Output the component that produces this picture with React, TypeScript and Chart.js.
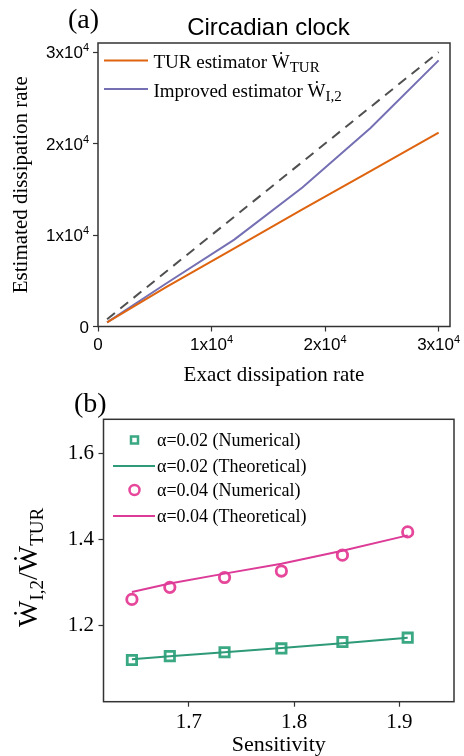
import React, { useEffect, useRef } from 'react';
import { Chart, registerables } from 'chart.js';

Chart.register(...registerables);

// ---------- Panel (a) data ----------
const exactRates = [800, 6000, 12000, 18000, 24000, 30000];
const turEstimates = [450, 4300, 8550, 12800, 17000, 21200];
const improvedEstimates = [450, 4700, 9500, 15200, 21700, 29100];
const identityX = [800, 30000];
const identityY = [800, 30000];
const rateTicks = [0, 10000, 20000, 30000];
const rateTickBase = ['0', '1x10', '2x10', '3x10'];
const rateTickExp = ['', '4', '4', '4'];
const legendA = ['TUR estimator ', 'Improved estimator '];
const legendASubs = ['TUR', 'I,2'];

// ---------- Panel (b) data ----------
const sensitivity = [1.646, 1.682, 1.734, 1.788, 1.846, 1.908];
const ratioNum002 = [1.119, 1.128, 1.137, 1.146, 1.161, 1.171];
const ratioTheo002 = [1.121, 1.128, 1.137, 1.147, 1.158, 1.171];
const ratioNum004 = [1.26, 1.288, 1.311, 1.326, 1.363, 1.417];
const ratioTheo004 = [1.277, 1.297, 1.32, 1.343, 1.373, 1.409];
const sensTicks = [1.7, 1.8, 1.9];
const ratioTicks = [1.2, 1.4, 1.6];
const legendB = [
  'α=0.02 (Numerical)',
  'α=0.02 (Theoretical)',
  'α=0.04 (Numerical)',
  'α=0.04 (Theoretical)',
];

const ORANGE = '#DE6410';
const PURPLE = '#7570B3';
const GREEN = '#3AA882';
const GREEN_LINE = '#2E9A78';
const PINK = '#E6479B';
const PINK_LINE = '#DC3C97';
const FRAME = '#333333';

const SERIF = "'Liberation Serif', 'Times New Roman', 'DejaVu Serif', serif";
const SANS = "'Liberation Sans', Arial, 'DejaVu Sans', sans-serif";

type Part = { t: string; size: number; dy?: number };

function partsWidth(ctx: CanvasRenderingContext2D, parts: Part[], family: string) {
  let w = 0;
  ctx.save();
  for (const p of parts) {
    ctx.font = `${p.size}px ${family}`;
    w += ctx.measureText(p.t).width;
  }
  ctx.restore();
  return w;
}

function drawParts(ctx: CanvasRenderingContext2D, x: number, y: number, parts: Part[], family: string, color: string) {
  ctx.save();
  ctx.fillStyle = color;
  ctx.textBaseline = 'alphabetic';
  ctx.textAlign = 'left';
  let cx = x;
  for (const p of parts) {
    ctx.font = `${p.size}px ${family}`;
    ctx.fillText(p.t, cx, y + (p.dy || 0));
    cx += ctx.measureText(p.t).width;
  }
  ctx.restore();
}

const framePlugin = {
  id: 'frame',
  afterDatasetsDraw(chart: any) {
    const { ctx, chartArea: a } = chart;
    ctx.save();
    ctx.strokeStyle = FRAME;
    ctx.lineWidth = 1.5;
    ctx.strokeRect(a.left, a.top, a.right - a.left, a.bottom - a.top);
    ctx.restore();
  },
};

function tickParts(i: number): Part[] {
  const parts: Part[] = [{ t: rateTickBase[i], size: 17 }];
  if (rateTickExp[i]) parts.push({ t: rateTickExp[i], size: 11, dy: -7 });
  return parts;
}

const decorA = {
  id: 'decorA',
  afterDraw(chart: any) {
    const ctx: CanvasRenderingContext2D = chart.ctx;
    const xs = chart.scales.x;
    const ys = chart.scales.y;
    // tick labels with superscripts
    for (let i = 0; i < rateTicks.length; i++) {
      const parts = tickParts(i);
      const w = partsWidth(ctx, parts, SANS);
      const px = xs.getPixelForValue(rateTicks[i]);
      drawParts(ctx, px - w / 2, chart.chartArea.bottom + 23.5, parts, SANS, '#000');
      const py = ys.getPixelForValue(rateTicks[i]);
      drawParts(ctx, 89 - w, py + 6, parts, SANS, '#000');
    }
    // panel label
    drawParts(ctx, 68, 28, [{ t: '(a)', size: 28 }], SERIF, '#000');
    // title
    ctx.save();
    ctx.font = `24px ${SANS}`;
    ctx.fillStyle = '#000';
    ctx.textAlign = 'center';
    ctx.textBaseline = 'alphabetic';
    ctx.fillText('Circadian clock', 268.5, 35);
    ctx.restore();
    // legend
    const colors = [ORANGE, PURPLE];
    const rows = [60.5, 89];
    for (let i = 0; i < legendA.length; i++) {
      ctx.save();
      ctx.strokeStyle = colors[i];
      ctx.lineWidth = 2;
      ctx.beginPath();
      ctx.moveTo(104, rows[i]);
      ctx.lineTo(148, rows[i]);
      ctx.stroke();
      ctx.restore();
      drawParts(
        ctx,
        153.5,
        rows[i] + 7.5,
        [
          { t: legendA[i], size: 19 },
          { t: 'Ẇ', size: 19 },
          { t: legendASubs[i], size: 15, dy: 4 },
        ],
        SERIF,
        '#000'
      );
    }
  },
};

const decorB = {
  id: 'decorB',
  afterDraw(chart: any) {
    const ctx: CanvasRenderingContext2D = chart.ctx;
    drawParts(ctx, 74, 22, [{ t: '(b)', size: 28 }], SERIF, '#000');
    // y-axis title with subscripts
    ctx.save();
    ctx.translate(37, 237);
    ctx.rotate(-Math.PI / 2);
    drawParts(
      ctx,
      0,
      0,
      [
        { t: 'Ẇ', size: 28 },
        { t: 'I,2', size: 19, dy: 6 },
        { t: '/', size: 28 },
        { t: 'Ẇ', size: 28 },
        { t: 'TUR', size: 19, dy: 6 },
      ],
      SERIF,
      '#000'
    );
    ctx.restore();
    // legend
    const rows = [50, 76, 100, 126];
    const mx = 134.5;
    for (let i = 0; i < legendB.length; i++) {
      const y = rows[i];
      ctx.save();
      if (i === 0) {
        ctx.strokeStyle = GREEN;
        ctx.lineWidth = 2.5;
        ctx.strokeRect(mx - 3.5, y - 3.5, 7, 7);
      } else if (i === 2) {
        ctx.strokeStyle = PINK;
        ctx.lineWidth = 2.5;
        ctx.beginPath();
        ctx.arc(mx, y, 5, 0, Math.PI * 2);
        ctx.stroke();
      } else {
        ctx.strokeStyle = i === 1 ? GREEN_LINE : PINK_LINE;
        ctx.lineWidth = 2;
        ctx.beginPath();
        ctx.moveTo(113, y);
        ctx.lineTo(155, y);
        ctx.stroke();
      }
      ctx.restore();
      drawParts(ctx, 157, y + 6, [{ t: legendB[i], size: 18 }], SERIF, '#000');
    }
  },
};

function zip(xs: number[], ys: number[]) {
  return xs.map((x, i) => ({ x, y: ys[i] }));
}

export default function App() {
  const refA = useRef<HTMLCanvasElement | null>(null);
  const refB = useRef<HTMLCanvasElement | null>(null);

  useEffect(() => {
    const chartA = new Chart(refA.current as HTMLCanvasElement, {
      type: 'scatter',
      data: {
        datasets: [
          {
            data: zip(identityX, identityY),
            showLine: true,
            borderColor: '#505050',
            borderWidth: 2,
            borderDash: [10, 7],
            pointRadius: 0,
          },
          {
            data: zip(exactRates, turEstimates),
            showLine: true,
            borderColor: ORANGE,
            borderWidth: 2,
            pointRadius: 0,
          },
          {
            data: zip(exactRates, improvedEstimates),
            showLine: true,
            borderColor: PURPLE,
            borderWidth: 2,
            pointRadius: 0,
          },
        ],
      },
      options: {
        responsive: false,
        animation: false,
        events: [],
        layout: { padding: { top: 43, right: 14, left: 0, bottom: 0 } },
        plugins: { legend: { display: false }, tooltip: { enabled: false }, title: { display: false } },
        scales: {
          x: {
            type: 'linear',
            min: 0,
            max: 31000,
            afterBuildTicks: (s: any) => {
              s.ticks = rateTicks.map((v) => ({ value: v }));
            },
            afterFit: (s: any) => {
              s.height = 63.5;
            },
            ticks: { display: false },
            grid: { drawOnChartArea: false, drawTicks: true, tickLength: 5, tickColor: FRAME, tickWidth: 1.2 },
            border: { display: false },
            title: {
              display: true,
              text: 'Exact dissipation rate',
              font: { family: SERIF, size: 21, lineHeight: 1 },
              color: '#000',
              padding: { top: 0, bottom: 4.5 },
            },
          },
          y: {
            type: 'linear',
            min: 0,
            max: 31000,
            afterBuildTicks: (s: any) => {
              s.ticks = rateTicks.map((v) => ({ value: v }));
            },
            afterFit: (s: any) => {
              s.width = 98;
            },
            ticks: { display: false },
            grid: { drawOnChartArea: false, drawTicks: true, tickLength: 5, tickColor: FRAME, tickWidth: 1.2 },
            border: { display: false },
            title: {
              display: true,
              text: 'Estimated dissipation rate',
              font: { family: SERIF, size: 21, lineHeight: 1 },
              color: '#000',
              padding: { top: 11, bottom: 0 },
            },
          },
        },
      },
      plugins: [framePlugin, decorA],
    } as any);

    const chartB = new Chart(refB.current as HTMLCanvasElement, {
      type: 'scatter',
      data: {
        datasets: [
          {
            data: zip(sensitivity, ratioTheo002),
            showLine: true,
            borderColor: GREEN_LINE,
            borderWidth: 2,
            pointRadius: 0,
          },
          {
            data: zip(sensitivity, ratioTheo004),
            showLine: true,
            borderColor: PINK_LINE,
            borderWidth: 2,
            pointRadius: 0,
          },
          {
            data: zip(sensitivity, ratioNum002),
            showLine: false,
            pointStyle: 'rect',
            pointRadius: 6.6,
            borderWidth: 2.8,
            borderColor: GREEN,
            backgroundColor: 'rgba(0,0,0,0)',
          },
          {
            data: zip(sensitivity, ratioNum004),
            showLine: false,
            pointStyle: 'circle',
            pointRadius: 5.2,
            borderWidth: 2.8,
            borderColor: PINK,
            backgroundColor: 'rgba(0,0,0,0)',
          },
        ],
      },
      options: {
        responsive: false,
        animation: false,
        events: [],
        layout: { padding: { top: 29.3, right: 10, left: 0, bottom: 0 } },
        plugins: { legend: { display: false }, tooltip: { enabled: false }, title: { display: false } },
        scales: {
          x: {
            type: 'linear',
            min: 1.619,
            max: 1.952,
            afterBuildTicks: (s: any) => {
              s.ticks = sensTicks.map((v) => ({ value: v }));
            },
            afterFit: (s: any) => {
              s.height = 54.3;
            },
            ticks: {
              callback: (v: any) => Number(v).toFixed(1),
              font: { family: SERIF, size: 21 },
              color: '#000',
              padding: 3,
              maxRotation: 0,
              autoSkip: false,
            },
            grid: { drawOnChartArea: false, drawTicks: true, tickLength: 5, tickColor: FRAME, tickWidth: 1.2 },
            border: { display: false },
            title: {
              display: true,
              text: 'Sensitivity',
              font: { family: SERIF, size: 22, lineHeight: 1 },
              color: '#000',
              padding: { top: 0, bottom: 0 },
            },
          },
          y: {
            type: 'linear',
            min: 1.022,
            max: 1.679,
            afterBuildTicks: (s: any) => {
              s.ticks = ratioTicks.map((v) => ({ value: v }));
            },
            afterFit: (s: any) => {
              s.width = 103.5;
            },
            ticks: {
              callback: (v: any) => Number(v).toFixed(1),
              font: { family: SERIF, size: 21 },
              color: '#000',
              padding: 4.5,
              autoSkip: false,
            },
            grid: { drawOnChartArea: false, drawTicks: true, tickLength: 5, tickColor: FRAME, tickWidth: 1.2 },
            border: { display: false },
            title: { display: false },
          },
        },
      },
      plugins: [framePlugin, decorB],
    } as any);

    return () => {
      chartA.destroy();
      chartB.destroy();
    };
  }, []);

  return (
    <div style={{ position: 'fixed', left: 0, top: 0, width: 464, height: 756, background: '#fff' }}>
      <canvas ref={refA} width={464} height={390} style={{ position: 'absolute', left: 0, top: 0 }} />
      <canvas ref={refB} width={464} height={366} style={{ position: 'absolute', left: 0, top: 390 }} />
    </div>
  );
}
